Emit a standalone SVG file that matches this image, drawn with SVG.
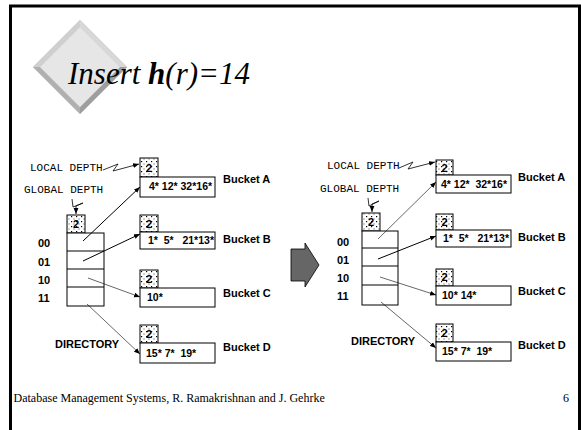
<svg xmlns="http://www.w3.org/2000/svg" width="581" height="430" viewBox="0 0 581 430">
<defs>
<pattern id="dots" width="5" height="5" patternUnits="userSpaceOnUse">
<rect width="5" height="5" fill="#fff"/>
<rect x="1" y="1" width="1.2" height="1.2" fill="#000"/>
<rect x="3.5" y="3.5" width="1" height="1" fill="#444"/>
</pattern>
<marker id="ah" viewBox="0 0 10 10" refX="10" refY="5" markerWidth="6" markerHeight="6" orient="auto" markerUnits="userSpaceOnUse">
<path d="M0,1 L10,5 L0,9 z" fill="#000"/>
</marker>
</defs>
<style>
.frame{fill:#fff;stroke:#000;stroke-width:3}
.box{fill:#fff;stroke:#000;stroke-width:1}
.dep{fill:url(#dots);stroke:#000;stroke-width:1}
.dn{font-family:"Liberation Sans",Arial,sans-serif;font-weight:bold;font-size:11px;fill:#000}
.bt{font-family:"Liberation Sans",Arial,sans-serif;font-weight:bold;font-size:10.5px;fill:#000;white-space:pre}
.lab{font-family:"Liberation Sans",Arial,sans-serif;font-weight:bold;font-size:11px;fill:#000}
.mono{font-family:"Liberation Mono","Courier New",monospace;font-size:11px;fill:#000}
.con{fill:none;stroke:#000;stroke-width:1;marker-end:url(#ah)}
.thin{fill:none;stroke:#000;stroke-width:0.6;marker-end:url(#ah)}
.zig{fill:none;stroke:#000;stroke-width:0.8;marker-end:url(#ah)}
.sep{stroke:#000;stroke-width:1}
.serif{font-family:"Liberation Serif","Times New Roman",serif;fill:#000}
</style>
<rect class="frame" x="10.5" y="6" width="569" height="440"/>

<g id="title">
<polygon points="80,20 127,67 80,114 33,67" fill="#bdbdbd"/>
<polygon points="80,20 127,67 120,67 80,27" fill="#d8d8d8"/>
<polygon points="80,20 33,67 40,67 80,27" fill="#cfcfcf"/>
<polygon points="33,67 80,114 80,107 40,67" fill="#b0b0b0"/>
<polygon points="127,67 80,114 80,107 120,67" fill="#9e9e9e"/>
<polygon points="80,27 120,67 80,107 40,67" fill="#e6e6e6"/>
<text class="serif" x="68" y="84" font-style="italic" font-size="31px">Insert <tspan font-weight="bold">h</tspan>(r)=14</text>
</g>

<g id="arrow-mid">
<polygon points="291,249 305,249 305,243 319,265 305,287 305,281 291,281" fill="#666" stroke="#000" stroke-width="0.8"/>
</g>

<!-- LEFT -->
<g id="L-labels">
<text class="mono" x="30" y="171">LOCAL DEPTH</text>
<text class="mono" x="24" y="193">GLOBAL DEPTH</text>
<text class="lab" x="38" y="247">00</text>
<text class="lab" x="38" y="266">01</text>
<text class="lab" x="38" y="284">10</text>
<text class="lab" x="38" y="302">11</text>
<text class="lab" x="55" y="348">DIRECTORY</text>
</g>
<g id="L-directory">
<rect class="dep" x="67" y="215" width="18" height="18"/>
<text class="dn" x="76" y="228" text-anchor="middle">2</text>
<rect class="box" x="67" y="233" width="37" height="73"/>
<line class="sep" x1="67" y1="251" x2="104" y2="251"/>
<line class="sep" x1="67" y1="269" x2="104" y2="269"/>
<line class="sep" x1="67" y1="287" x2="104" y2="287"/>
</g>
<g id="L-bucketA">
<rect class="dep" x="140" y="158" width="18" height="19"/>
<text class="dn" x="149" y="172" text-anchor="middle">2</text>
<rect class="box" x="140" y="177" width="75" height="20"/>
<text class="bt" x="149" y="190">4* 12* 32*16*</text>
<text class="lab" x="223" y="183">Bucket A</text>
</g>
<g id="L-bucketB">
<rect class="dep" x="140" y="215" width="18" height="17"/>
<text class="dn" x="149" y="228" text-anchor="middle">2</text>
<rect class="box" x="140" y="232" width="75" height="17"/>
<text class="bt" x="148" y="244">1*  5*   21*13*</text>
<text class="lab" x="223" y="243">Bucket B</text>
</g>
<g id="L-bucketC">
<rect class="dep" x="140" y="270" width="18" height="18"/>
<text class="dn" x="149" y="283" text-anchor="middle">2</text>
<rect class="box" x="140" y="288" width="75" height="19"/>
<text class="bt" x="147" y="301">10*</text>
<text class="lab" x="223" y="297">Bucket C</text>
</g>
<g id="L-bucketD">
<rect class="dep" x="140" y="325" width="18" height="18"/>
<text class="dn" x="149" y="338" text-anchor="middle">2</text>
<rect class="box" x="140" y="343" width="75" height="20"/>
<text class="bt" x="146" y="357">15* 7*  19*</text>
<text class="lab" x="223" y="351">Bucket D</text>
</g>
<g id="L-connectors">
<path class="zig" d="M103,170 L118,164 L113,171 L139,164"/>
<path class="zig" d="M72,199 L73,207 L83,203 L76,206 L76,214"/>
<line class="con" x1="83" y1="241" x2="140" y2="187"/>
<line class="con" x1="83" y1="261" x2="140" y2="234"/>
<line class="thin" x1="88" y1="278" x2="140" y2="297"/>
<line class="thin" x1="87" y1="304" x2="140" y2="354"/>
</g>

<!-- RIGHT -->
<g id="R-labels">
<text class="mono" x="327" y="169">LOCAL DEPTH</text>
<text class="mono" x="320" y="192">GLOBAL DEPTH</text>
<text class="lab" x="337" y="246">00</text>
<text class="lab" x="337" y="264">01</text>
<text class="lab" x="337" y="282">10</text>
<text class="lab" x="337" y="300">11</text>
<text class="lab" x="351" y="345">DIRECTORY</text>
</g>
<g id="R-directory">
<rect class="dep" x="362" y="213" width="18" height="18"/>
<text class="dn" x="371" y="226" text-anchor="middle">2</text>
<rect class="box" x="362" y="231" width="36" height="74"/>
<line class="sep" x1="362" y1="248" x2="398" y2="248" stroke="#555"/>
<line class="sep" x1="362" y1="266" x2="398" y2="266" stroke="#555"/>
<line class="sep" x1="362" y1="285" x2="398" y2="285"/>
</g>
<g id="R-bucketA">
<rect class="dep" x="436" y="160" width="17" height="15"/>
<text class="dn" x="444.5" y="172" text-anchor="middle">2</text>
<rect class="box" x="436" y="175" width="75" height="18"/>
<text class="bt" x="441" y="188">4* 12*  32*16*</text>
<text class="lab" x="518" y="181">Bucket A</text>
</g>
<g id="R-bucketB">
<rect class="dep" x="436" y="214" width="17" height="16"/>
<text class="dn" x="444.5" y="226" text-anchor="middle">2</text>
<rect class="box" x="436" y="230" width="75" height="17"/>
<text class="bt" x="443" y="242">1*  5*   21*13*</text>
<text class="lab" x="518" y="241">Bucket B</text>
</g>
<g id="R-bucketC">
<rect class="dep" x="436" y="269" width="17" height="17"/>
<text class="dn" x="444.5" y="281" text-anchor="middle">2</text>
<rect class="box" x="436" y="286" width="75" height="19"/>
<text class="bt" x="442" y="299">10* 14*</text>
<text class="lab" x="518" y="295">Bucket C</text>
</g>
<g id="R-bucketD">
<rect class="dep" x="436" y="324" width="17" height="18"/>
<text class="dn" x="444.5" y="337" text-anchor="middle">2</text>
<rect class="box" x="436" y="342" width="75" height="19"/>
<text class="bt" x="442" y="355">15* 7*  19*</text>
<text class="lab" x="518" y="349">Bucket D</text>
</g>
<g id="R-connectors">
<path class="zig" d="M399,168 L413,162 L408,169 L435,162"/>
<path class="zig" d="M368,198 L369,206 L379,201 L372,204 L372,212"/>
<line class="thin" x1="378" y1="239" x2="436" y2="182" stroke="#444"/>
<line class="con" x1="378" y1="259" x2="436" y2="236"/>
<line class="thin" x1="380" y1="277" x2="436" y2="295"/>
<line class="thin" x1="381" y1="302" x2="436" y2="348"/>
</g>

<g id="footer">
<text class="serif" x="13.5" y="402" font-size="12px">Database Management Systems, R. Ramakrishnan and J. Gehrke</text>
<text class="serif" x="569" y="402" text-anchor="end" font-size="12px">6</text>
</g>
</svg>
